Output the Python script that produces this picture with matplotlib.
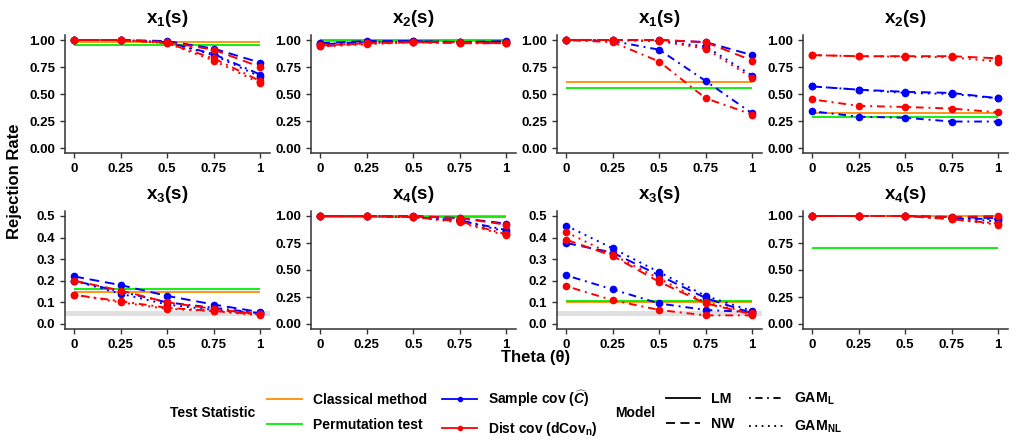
import numpy as np
import matplotlib
matplotlib.use('Agg')
import matplotlib.pyplot as plt
from matplotlib.lines import Line2D

plt.rcParams['font.family'] = ['Liberation Sans', 'DejaVu Sans']
plt.rcParams['font.weight'] = 'bold'
plt.rcParams['mathtext.fontset'] = 'custom'
plt.rcParams['mathtext.rm'] = 'Liberation Sans:bold'
plt.rcParams['mathtext.bf'] = 'Liberation Sans:bold'
plt.rcParams['mathtext.it'] = 'Liberation Sans:bold:italic'
plt.rcParams['mathtext.sf'] = 'Liberation Sans'

theta = [0, 0.25, 0.5, 0.75, 1]
theta_labels = ['0', '0.25', '0.5', '0.75', '1']
models = ['LM', 'NW', 'GAM_L', 'GAM_NL']
# models actually drawn in the panels (rows of each array below)
drawn_models = ['NW', 'GAM_L', 'GAM_NL']

p1_sample = [[1.0, 1.0, 0.99, 0.92, 0.79],
             [1.0, 1.0, 0.98, 0.87, 0.68],
             [1.0, 1.0, 0.98, 0.86, 0.66]]
p1_dist = [[1.0, 1.0, 0.98, 0.91, 0.75],
           [1.0, 1.0, 0.97, 0.83, 0.62],
           [1.0, 1.0, 0.97, 0.81, 0.60]]
p1_classical, p1_perm = 0.98, 0.95

p2_sample = [[0.97, 0.99, 0.99, 0.98, 0.99],
             [0.96, 0.98, 0.99, 0.98, 0.98],
             [0.96, 0.98, 0.98, 0.98, 0.98]]
p2_dist = [[0.95, 0.97, 0.98, 0.98, 0.97],
           [0.94, 0.97, 0.98, 0.97, 0.97],
           [0.94, 0.96, 0.98, 0.97, 0.97]]
p2_classical, p2_perm = 0.99, 1.00

p3_sample = [[1.0, 1.0, 1.0, 0.98, 0.86],
             [1.0, 0.99, 0.91, 0.62, 0.32],
             [1.0, 1.0, 0.99, 0.94, 0.67]]
p3_dist = [[1.0, 1.0, 1.0, 0.98, 0.81],
           [1.0, 0.98, 0.80, 0.46, 0.31],
           [1.0, 1.0, 0.99, 0.92, 0.65]]
p3_classical, p3_perm = 0.61, 0.56

p4_sample = [[0.57, 0.54, 0.52, 0.51, 0.46],
             [0.34, 0.29, 0.28, 0.245, 0.245],
             [0.57, 0.54, 0.51, 0.50, 0.46]]
p4_dist = [[0.86, 0.85, 0.85, 0.85, 0.83],
           [0.45, 0.39, 0.38, 0.365, 0.33],
           [0.86, 0.85, 0.845, 0.84, 0.80]]
p4_classical, p4_perm = 0.32, 0.29

p5_sample = [[0.22, 0.18, 0.13, 0.09, 0.055],
             [0.20, 0.15, 0.10, 0.075, 0.05],
             [0.20, 0.14, 0.09, 0.065, 0.05]]
p5_dist = [[0.20, 0.155, 0.10, 0.07, 0.045],
           [0.135, 0.105, 0.075, 0.06, 0.045],
           [0.135, 0.10, 0.07, 0.06, 0.04]]
p5_classical, p5_perm = 0.15, 0.16

p6_sample = [[1.0, 1.0, 1.0, 0.98, 0.93],
             [1.0, 1.0, 0.99, 0.96, 0.87],
             [1.0, 1.0, 0.99, 0.96, 0.855]]
p6_dist = [[1.0, 1.0, 1.0, 0.98, 0.92],
           [1.0, 1.0, 0.99, 0.95, 0.83],
           [1.0, 1.0, 0.99, 0.94, 0.82]]
p6_classical, p6_perm = 1.00, 0.99

p7_sample = [[0.375, 0.33, 0.225, 0.12, 0.05],
             [0.225, 0.16, 0.095, 0.065, 0.055],
             [0.455, 0.35, 0.24, 0.13, 0.06]]
p7_dist = [[0.39, 0.315, 0.195, 0.095, 0.045],
           [0.175, 0.11, 0.065, 0.04, 0.04],
           [0.425, 0.32, 0.21, 0.10, 0.05]]
p7_classical, p7_perm = 0.10, 0.105

p8_sample = [[1.0, 1.0, 1.0, 0.99, 0.98],
             [1.0, 1.0, 1.0, 0.98, 0.97],
             [1.0, 1.0, 1.0, 0.98, 0.95]]
p8_dist = [[1.0, 1.0, 1.0, 0.99, 1.0],
           [1.0, 1.0, 1.0, 0.97, 0.93],
           [1.0, 1.0, 1.0, 0.97, 0.92]]
p8_classical, p8_perm = 1.00, 0.70

titles = [r'$\mathbf{x}_{\mathsf{1}}\mathsf{(}\mathbf{s}\mathsf{)}$',
          r'$\mathbf{x}_{\mathsf{2}}\mathsf{(}\mathbf{s}\mathsf{)}$',
          r'$\mathbf{x}_{\mathsf{1}}\mathsf{(}\mathbf{s}\mathsf{)}$',
          r'$\mathbf{x}_{\mathsf{2}}\mathsf{(}\mathbf{s}\mathsf{)}$',
          r'$\mathbf{x}_{\mathsf{3}}\mathsf{(}\mathbf{s}\mathsf{)}$',
          r'$\mathbf{x}_{\mathsf{4}}\mathsf{(}\mathbf{s}\mathsf{)}$',
          r'$\mathbf{x}_{\mathsf{3}}\mathsf{(}\mathbf{s}\mathsf{)}$',
          r'$\mathbf{x}_{\mathsf{4}}\mathsf{(}\mathbf{s}\mathsf{)}$']

panels = [
    (p1_sample, p1_dist, p1_classical, p1_perm, 1.0),
    (p2_sample, p2_dist, p2_classical, p2_perm, 1.0),
    (p3_sample, p3_dist, p3_classical, p3_perm, 1.0),
    (p4_sample, p4_dist, p4_classical, p4_perm, 1.0),
    (p5_sample, p5_dist, p5_classical, p5_perm, 0.5),
    (p6_sample, p6_dist, p6_classical, p6_perm, 1.0),
    (p7_sample, p7_dist, p7_classical, p7_perm, 0.5),
    (p8_sample, p8_dist, p8_classical, p8_perm, 1.0),
]

blue = '#0000FF'
red = '#FF0000'
orange = '#FF8C00'
green = '#00EE00'
style_of = {'LM': '-', 'NW': (0, (5, 3)), 'GAM_L': (0, (1, 2.5, 4, 2.5)),
            'GAM_NL': (0, (1, 2.5))}

fig = plt.figure(figsize=(10.15, 4.4), dpi=100)

lefts = [65, 311, 557, 803]
tops = [34.6, 210.6]
w_px, h_px = 204.5, 118.8

for i, (sample, dist, classical, perm, ymax) in enumerate(panels):
    r, c = divmod(i, 4)
    ax = fig.add_axes([lefts[c] / 1015, (440 - tops[r] - h_px) / 440,
                       w_px / 1015, h_px / 440])
    if ymax == 0.5:
        ax.axhspan(0.0375, 0.0625, color='#E0E0E0', lw=0, zorder=0)
    ax.hlines(classical, theta[0], theta[-1], color=orange, lw=1.3, zorder=1)
    ax.hlines(perm, theta[0], theta[-1], color=green, lw=1.3, zorder=1)
    for vals, col in ((sample, blue), (dist, red)):
        for k, m in enumerate(drawn_models):
            ax.plot(theta, vals[k], color=col, ls=style_of[m], lw=1.4,
                    marker='o', ms=4.5, zorder=2)
    ax.set_xlim(-0.05, 1.05)
    ax.set_ylim(-0.05 * ymax, 1.05 * ymax)
    ax.set_xticks(theta)
    ax.set_xticklabels(theta_labels)
    if ymax == 1.0:
        ax.set_yticks([0, 0.25, 0.5, 0.75, 1.0])
        ax.set_yticklabels(['0.00', '0.25', '0.50', '0.75', '1.00'])
    else:
        ax.set_yticks([0, 0.1, 0.2, 0.3, 0.4, 0.5])
        ax.set_yticklabels(['0.0', '0.1', '0.2', '0.3', '0.4', '0.5'])
    for s in ['top', 'right']:
        ax.spines[s].set_visible(False)
    for s in ['left', 'bottom']:
        ax.spines[s].set_color('#333333')
        ax.spines[s].set_linewidth(1.1)
    ax.tick_params(colors='#333333', width=1.0, length=3.5, labelsize=9.5,
                   labelcolor='black')
    for lab in ax.get_xticklabels() + ax.get_yticklabels():
        lab.set_fontweight('bold')
    ax.set_title(titles[i], fontsize=13.5, pad=8)

fig.text(15 / 1015, (440 - 181) / 440, 'Rejection Rate', rotation=90,
         fontsize=12, fontweight='bold', ha='center', va='center')
fig.text(536 / 1015, (440 - 357) / 440, 'Theta (θ)', fontsize=12,
         fontweight='bold', ha='center', va='center')

# legend: test statistic
fig.text(170 / 1015, (440 - 413) / 440, 'Test Statistic', fontsize=10,
         fontweight='bold', ha='left', va='center')
stat_handles = [
    Line2D([], [], color=orange, lw=1.3),
    Line2D([], [], color=green, lw=1.3),
    Line2D([], [], color=blue, lw=1.3, marker='o', ms=3),
    Line2D([], [], color=red, lw=1.3, marker='o', ms=3),
]
stat_labels = ['Classical method', 'Permutation test',
               r'Sample cov ($\widehat{C}$)', r'Dist cov (dCov$_\mathrm{n}$)']
fig.legend(stat_handles, stat_labels, ncol=2, frameon=False,
           loc='center left', bbox_to_anchor=(267 / 1015, (440 - 413) / 440),
           borderpad=0, borderaxespad=0, handlelength=2.5, handletextpad=0.8,
           columnspacing=1.1, labelspacing=0.8,
           prop={'weight': 'bold', 'size': 10})

fig.text(615 / 1015, (440 - 413) / 440, 'Model', fontsize=10,
         fontweight='bold', ha='left', va='center')
model_handles = [Line2D([], [], color='black', lw=1.3, ls=style_of[m])
                 for m in models]
model_labels = ['LM', 'NW', r'GAM$_\mathrm{L}$', r'GAM$_\mathrm{NL}$']
fig.legend(model_handles, model_labels, ncol=2, frameon=False,
           loc='center left', bbox_to_anchor=(666 / 1015, (440 - 413) / 440),
           borderpad=0, borderaxespad=0, handlelength=2.4, handletextpad=0.8,
           columnspacing=1.0, labelspacing=0.8,
           prop={'weight': 'bold', 'size': 10.2})

fig.savefig('out.png', dpi=100)
